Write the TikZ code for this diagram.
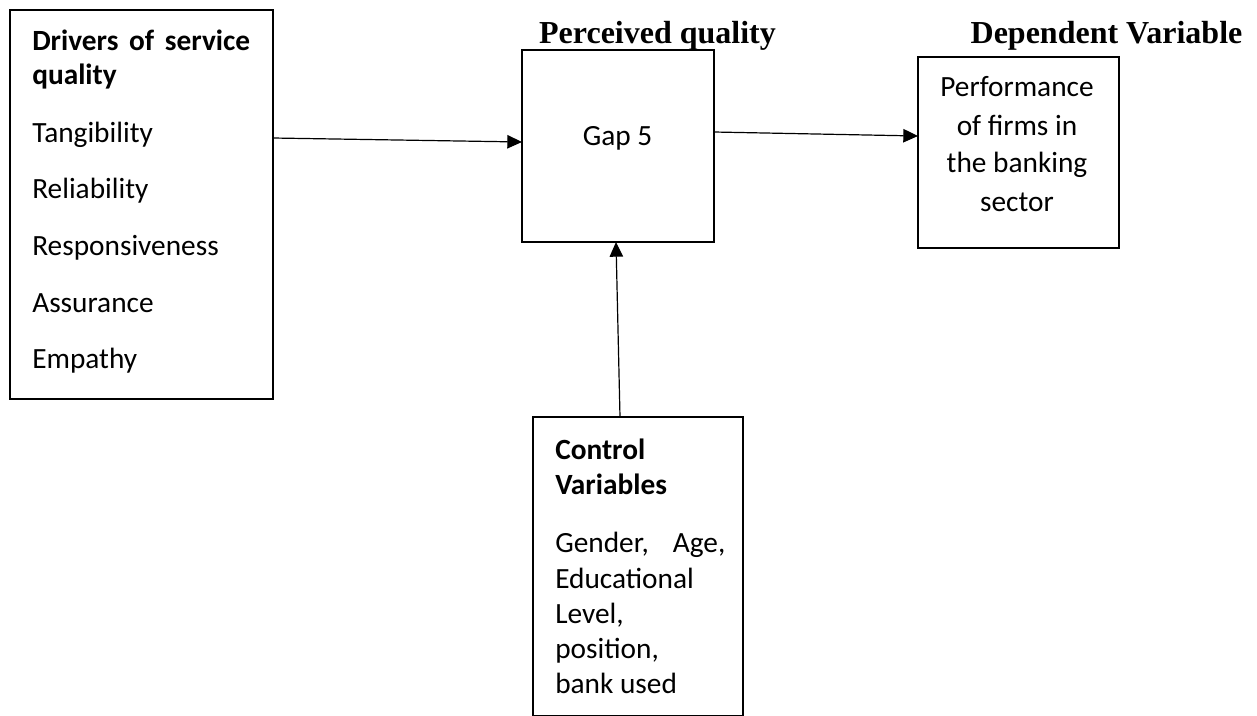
\documentclass[tikz,border=0pt]{standalone}
\usepackage{fontspec}
\setmainfont{Carlito}
\newfontfamily\tnr{Liberation Serif}
\usetikzlibrary{arrows.meta,calc}
\tikzset{
  box/.style={draw=black, line width=2pt, inner sep=0pt, outer sep=0pt, anchor=north west},
  arr/.style={draw=black, line width=0.9pt, -{Triangle[length=11pt,width=10pt]}},
  txt/.style={inner sep=0pt, anchor=base west, font=\fontsize{22}{26}\selectfont},
  ctxt/.style={inner sep=0pt, anchor=base, font=\fontsize{22}{26}\selectfont},
  head/.style={inner sep=0pt, anchor=base, font=\fontsize{24}{28}\selectfont\tnr\bfseries}
}
\begin{document}
\begin{tikzpicture}[x=0.75pt,y=-0.75pt]
\useasboundingbox (0,0) rectangle (1257,715);
% boxes
\node[box, minimum width=197.25pt, minimum height=291.75pt] (drivers) at (10,10) {};
\node[box, minimum width=144pt, minimum height=144pt] (gap) at (522,50) {};
\node[box, minimum width=150.75pt, minimum height=143.25pt] (perf) at (918,57) {};
\node[box, minimum width=157.5pt, minimum height=224.6pt] (ctrl) at (533,417) {};
% headings
\node[head] (hpq) at (657.5,43) {Perceived quality};
\node[head] (hdv) at (1106.5,43) {Dependent Variable};
% left box text
\node[txt] (t1) at (32,50) {\bfseries\makebox[163.5pt][s]{Drivers\hfill of\hfill service}};
\node[txt] (t2) at (32,84) {\bfseries quality};
\node[txt] (t3) at (32,142) {Tangibility};
\node[txt] (t4) at (32,198) {Reliability};
\node[txt] (t5) at (32,255) {Responsiveness};
\node[txt] (t6) at (32,312) {Assurance};
\node[txt] (t7) at (32,368) {Empathy};
% middle
\node[ctxt] (g5) at (617.5,145) {Gap 5};
% right box text
\node[ctxt] (p1) at (1017,96) {Performance};
\node[ctxt] (p2) at (1017,135) {of firms in};
\node[ctxt] (p3) at (1017,172) {the banking};
\node[ctxt] (p4) at (1017,211) {sector};
% bottom box text
\node[txt] (c1) at (555,459) {\bfseries Control};
\node[txt] (c2) at (555,494) {\bfseries Variables};
\node[txt] (c3) at (555,552) {\makebox[127.5pt][s]{Gender,\hfill Age,}};
\node[txt] (c4) at (555,588) {Educational};
\node[txt] (c5) at (555,623) {Level,};
\node[txt] (c6) at (555,658) {position,};
\node[txt] (c7) at (555,693) {bank used};
% connectors
\draw[arr] ($(drivers.north east)+(0,128)$) -- ($(gap.north west)+(0,92)$);
\draw[arr] ($(gap.north east)+(0,82)$) -- ($(perf.north west)+(0,79)$);
\draw[arr] ($(ctrl.north west)+(87,0)$) -- ($(gap.south west)+(94,0)$);
\end{tikzpicture}
\end{document}
